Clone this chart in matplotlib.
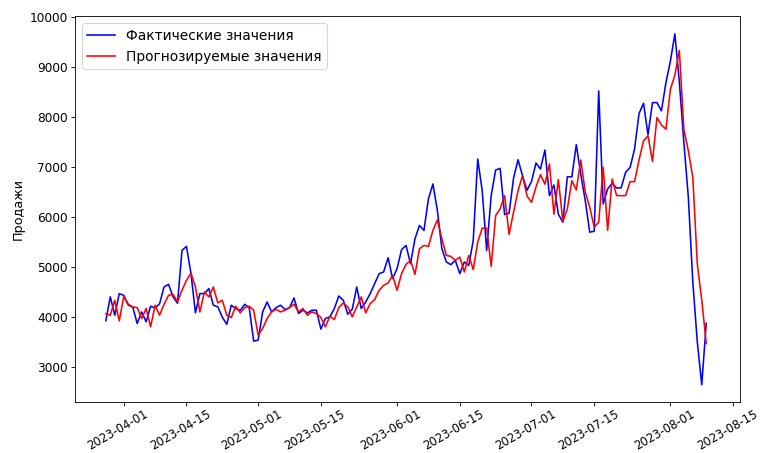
import matplotlib
matplotlib.use("Agg")
import matplotlib.pyplot as plt
import matplotlib.dates as mdates
import matplotlib.transforms as mtransforms
import numpy as np
import pandas as pd

# daily sales, actual vs forecast
dates = pd.date_range("2023-03-28", "2023-08-09", freq="D")

actual = [
    3920, 4400, 4030, 4465, 4430, 4250, 4200, 3866, 4098, 3900,
    4212, 4180, 4260, 4600, 4650, 4400, 4270, 5330, 5410,
    4870, 4080, 4465, 4465, 4565, 4232, 4200, 3990, 3850, 4232,
    4165, 4130, 4250, 4185, 3513, 3533, 4098, 4297, 4098, 4185,
    4232, 4145, 4185, 4377, 4066, 4132, 4078, 4132, 4132, 3753,
    3966, 3999, 4165, 4417, 4331, 4052, 4152, 4597, 4165, 4297,
    4465, 4665, 4865, 4898, 5183, 4765, 4965, 5343, 5430, 5064,
    5563, 5830, 5729, 6362, 6661, 6128, 5364, 5097, 5044, 5130,
    4865, 5097, 5030, 5530, 7160, 6527, 5330, 6427, 6940, 6973,
    6048, 6074, 6780, 7146, 6826, 6535, 6710, 7080, 6960, 7340,
    6427, 6641, 6055, 5894, 6807, 6800, 7450, 6850, 6330, 5695,
    5715, 8523, 6262, 6561, 6673, 6581, 6581, 6892, 6992, 7359,
    8070, 8277, 7645, 8290, 8290, 8124, 8689, 9122, 9667, 8700,
    7500, 6400, 4700, 3500, 2640, 3870,
]

predicted = [
    4065, 4032, 4331, 3918, 4411, 4232, 4198, 4185, 3966, 4165,
    3799, 4232, 4032, 4252, 4431, 4451, 4297, 4531, 4730,
    4876, 4597, 4098, 4497, 4398, 4597, 4278, 4331, 4032, 3985,
    4212, 4078, 4185, 4212, 4132, 3633, 3766, 3966, 4098, 4152,
    4098, 4132, 4185, 4252, 4098, 4165, 4032, 4098, 4065, 3985,
    3799, 4012, 3945, 4185, 4278, 4198, 3999, 4198, 4398, 4078,
    4265, 4345, 4531, 4631, 4677, 4830, 4531, 4865, 5050, 5130,
    4850, 5364, 5430, 5410, 5729, 5943, 5563, 5230, 5210, 5130,
    5197, 4898, 5230, 4945, 5497, 5776, 5776, 5010, 6028, 6162,
    6427, 5650, 6100, 6527, 6826, 6420, 6294, 6600, 6846, 6655,
    7060, 6055, 6750, 5910, 6162, 6727, 6541, 7140, 6500, 6194,
    5795, 5894, 6993, 5729, 6761, 6427, 6427, 6427, 6707, 6707,
    7140, 7525, 7625, 7112, 7990, 7844, 7758, 8557, 8842, 9335,
    7758, 7325, 6793, 5064, 4331, 3466,
]

fig = plt.figure(figsize=(10, 453 / 76.3), dpi=76.3)
ax = fig.add_axes([0.0983, 0.112, 0.8716, 0.852])

ax.plot(dates, actual, color="blue", lw=1.5, label="Фактические значения")
ax.plot(dates, predicted, color="red", lw=1.5, label="Прогнозируемые значения")

ax.set_xlim(pd.Timestamp("2023-03-21 03:00"), pd.Timestamp("2023-08-16 13:00"))
ax.xaxis.set_major_locator(mdates.DayLocator(bymonthday=[1, 15]))
ax.xaxis.set_major_formatter(mdates.DateFormatter("%Y-%m-%d"))
ax.tick_params(labelsize=11.5)
ax.tick_params(axis="x", pad=1.5, labelsize=11)

# rotated date labels, nudged a little left of their ticks
shift = mtransforms.ScaledTranslation(-6 / 76.3, 0, fig.dpi_scale_trans)
for lbl in ax.get_xticklabels():
    lbl.set_rotation(30)
    lbl.set_transform(lbl.get_transform() + shift)

ax.set_ylabel("Продажи", fontsize=12)
ax.legend(loc="upper left", fontsize=13)

fig.savefig("out.png", dpi=76.3)
